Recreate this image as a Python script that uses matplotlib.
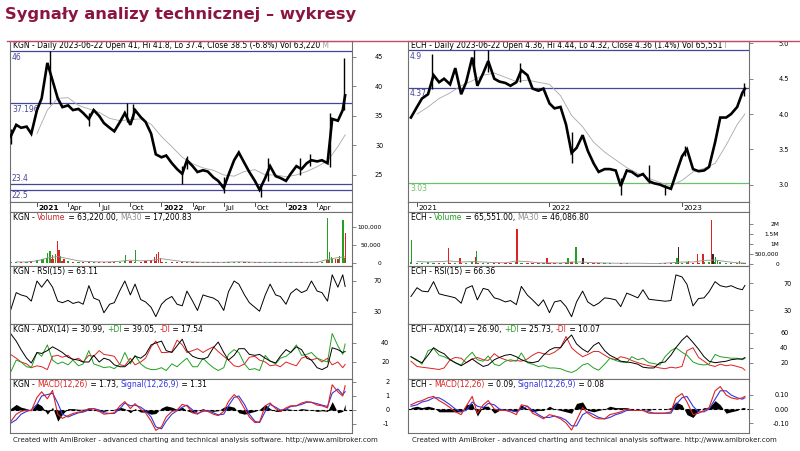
import numpy as np
import pandas as pd
import matplotlib
matplotlib.use('Agg')
import matplotlib.pyplot as plt
from matplotlib.lines import Line2D
from matplotlib.transforms import offset_copy

W, H = 800, 451

# ---------------- KGN (readings every half month, last point = 2023-06-22) ----------------
kgn_dates = pd.date_range('2020-10-15', '2023-06-15', freq='SMS').append(pd.DatetimeIndex(['2023-06-22']))
kgn_close = [31.5, 33.5, 33.0, 33.2, 32.0,
             36.0, 38.0, 44.0, 41.0, 38.0, 36.5, 36.8, 36.0, 36.2, 35.5, 34.5, 36.0,
             35.0, 33.8, 33.0, 32.4, 34.0, 35.5, 33.5, 36.0, 34.8, 34.0, 32.0, 28.5,
             28.0, 28.3, 27.0, 26.0, 25.2, 27.5, 26.5, 25.5, 25.8, 25.6, 24.6, 24.0,
             22.8, 25.0, 27.5, 28.8, 27.0, 25.5, 24.0, 22.5, 24.5, 26.5, 24.8, 24.5,
             24.0, 25.2, 26.5, 26.0, 27.0, 27.5, 27.3, 27.5, 27.0, 34.5, 34.2, 36.0, 38.5]
kgn_wick_dates = ['2020-10-15', '2021-02-08', '2021-06-01', '2021-09-20', '2021-10-08', '2022-03-01',
                  '2022-03-15', '2022-07-01', '2022-10-20', '2022-11-10', '2023-02-10', '2023-03-10',
                  '2023-05-08', '2023-06-20']
kgn_wick_hi = [32.8, 46.0, 35.5, 37.2, 37.1, 26.5, 28.3, 24.7, 23.5, 27.8, 27.8, 28.6, 35.5, 44.8]
kgn_wick_lo = [30.3, 37.0, 33.3, 34.0, 34.5, 23.4, 26.0, 22.0, 21.3, 24.0, 25.0, 26.5, 26.3, 36.0]
kgn_ma_dates = pd.date_range('2021-01-01', '2023-06-01', freq='MS').append(pd.DatetimeIndex(['2023-06-22']))
kgn_ma = [32.0, 36.0, 38.0, 38.1, 36.8, 36.2, 35.6, 34.6, 34.2, 34.4, 34.5, 33.6,
          31.5, 29.8, 28.0, 26.9, 26.2, 25.8, 25.0, 24.8, 25.6, 25.9, 25.0, 25.0,
          24.7, 25.0, 25.6, 26.4, 27.4, 29.8, 31.8]
kgn_levels = [46, 37.196, 23.4, 22.5]
kgn_level_labels = ['46', '37.196', '23.4', '22.5']
kgn_level_above = [False, False, True, False]

kgn_vol = [4, 2, 3, 2, 5,
           8, 10, 15, 12, 8, 6, 5, 4, 3, 3, 3, 4, 2, 2, 3, 2, 4, 6, 5, 4, 4, 5, 8, 6,
           4, 3, 3, 4, 3, 2, 2, 3, 2, 2, 3, 4, 3, 2, 2, 2, 3, 2, 2, 2, 2, 2, 2, 2,
           2, 3, 2, 2, 3, 2, 2, 3, 8, 12, 10, 10, 15]
kgn_spike_dates = ['2021-01-20', '2021-02-01', '2021-02-08', '2021-02-15', '2021-02-22', '2021-03-01',
                   '2021-03-05', '2021-03-10', '2021-03-20', '2021-09-18', '2021-10-17', '2021-12-12',
                   '2021-12-17', '2021-12-22', '2021-12-28', '2023-05-02', '2023-05-06', '2023-05-12',
                   '2023-05-25', '2023-06-05', '2023-06-16', '2023-06-22']
kgn_spike_vol = [12, 28, 33, 22, 25, 62, 35, 20, 10, 22, 35, 18, 25, 30, 15, 125, 30, 18, 12, 20, 120, 82]
kgn_spike_col = 'gggrgrrgrggrrrrgggrggr'
kgn_vma_dates = pd.date_range('2020-11-01', '2023-06-01', freq='MS').append(pd.DatetimeIndex(['2023-06-22']))
kgn_vma = [3, 3, 6, 14, 18, 12, 6, 4, 3, 3, 5, 8, 6, 7, 12, 8, 4, 3, 2, 2, 2, 3, 3, 2, 2, 2,
           2, 2, 2, 2, 10, 15, 17.2]

kgn_rsi = [32, 55, 52, 50, 44,
           70, 62, 72, 62, 44, 42, 45, 41, 43, 40, 64, 48, 45, 29, 40, 42, 58, 70, 52, 66, 46, 43, 36, 24,
           40, 46, 50, 40, 38, 57, 44, 32, 52, 50, 48, 44, 32, 56, 70, 66, 52, 42, 36, 31, 52, 66, 52, 50,
           40, 54, 60, 55, 58, 70, 57, 55, 44, 78, 62, 78, 63]
kgn_adx = [50, 42, 33, 24, 19,
           30, 29, 32, 36, 33, 30, 25, 23, 22, 20, 20, 27, 20, 24, 22, 17, 15, 15, 20, 26, 24, 28, 38, 40,
           42, 32, 30, 37, 44, 32, 26, 24, 23, 25, 35, 41, 30, 22, 27, 34, 34, 28, 27, 28, 24, 21, 19, 26,
           33, 30, 36, 33, 24, 22, 14, 12, 15, 35, 33, 30, 31]
kgn_pdi = [9, 22, 20, 15, 14,
           30, 26, 38, 22, 18, 20, 17, 22, 16, 18, 32, 18, 16, 14, 15, 13, 18, 30, 18, 27, 18, 14, 12, 12,
           14, 11, 18, 15, 20, 24, 15, 15, 24, 19, 14, 11, 14, 28, 33, 30, 18, 12, 13, 11, 27, 21, 18, 24,
           26, 30, 38, 27, 28, 30, 24, 22, 20, 50, 37, 28, 39]
kgn_mdi = [28, 24, 20, 18, 14,
           16, 15, 12, 26, 27, 25, 27, 22, 24, 20, 27, 26, 32, 28, 27, 26, 17, 16, 24, 17, 20, 24, 36, 42,
           30, 30, 31, 43, 38, 30, 32, 34, 30, 33, 36, 31, 26, 22, 16, 15, 18, 25, 26, 22, 20, 16, 17, 15,
           20, 18, 16, 24, 26, 22, 24, 20, 24, 17, 20, 14, 17.5]
kgn_macd = [-0.85, -0.3, -0.1, 0.0, -0.05,
            0.9, 1.3, 0.8, 1.4, -0.3, -0.6, -0.4, -0.25, -0.15, -0.1, 0.1, 0.1,
            -0.1, -0.3, -0.25, -0.2, 0.3, 0.6, 0.1, 0.45, 0.05, -0.2, -0.8, -1.45,
            -1.2, -0.5, -0.1, 0.0, 0.4, 0.3, -0.2, -0.3, 0.0, -0.1, -0.3, -0.4,
            -0.1, 0.6, 1.1, 0.8, 0.1, -0.5, -0.9, -0.85, 0.3, 0.5, 0.1, -0.1,
            0.15, 0.3, 0.3, 0.5, 0.6, 0.55, 0.35, 0.3, 0.15, 1.8, 1.3, 1.0, 1.73]
kgn_signal = [-0.95, -0.7, -0.3, -0.1, 0.0,
              0.4, 1.0, 1.1, 1.2, 0.5, -0.3, -0.5, -0.35, -0.2, -0.15, 0.0, 0.1,
              0.0, -0.2, -0.25, -0.25, 0.1, 0.5, 0.3, 0.35, 0.2, -0.05, -0.5, -1.2,
              -1.35, -0.8, -0.3, -0.05, 0.2, 0.35, 0.0, -0.25, -0.1, -0.05, -0.2, -0.35,
              -0.3, 0.3, 0.9, 1.0, 0.4, -0.3, -0.8, -0.9, -0.1, 0.4, 0.2, 0.0,
              0.05, 0.25, 0.3, 0.4, 0.55, 0.55, 0.45, 0.35, 0.25, 1.2, 1.5, 1.1, 1.31]

# ---------------- ECH ----------------
ech_dates = pd.date_range('2020-12-15', '2023-06-15', freq='SMS').append(pd.DatetimeIndex(['2023-06-22']))
ech_close = [3.95,
             4.10, 4.22, 4.28, 4.55, 4.45, 4.50, 4.42, 4.65, 4.28, 4.45, 4.80, 4.40,
             4.58, 4.75, 4.50, 4.46, 4.44, 4.40, 4.45, 4.62, 4.55, 4.36, 4.33, 4.36,
             4.15, 4.08, 4.10, 3.85, 3.45, 3.52, 3.70, 3.48, 3.30, 3.18, 3.22, 3.22,
             3.20, 2.98, 3.20, 3.18, 3.12, 3.15, 3.05, 3.02, 3.00, 2.97, 2.94, 3.15,
             3.40, 3.50, 3.22, 3.19, 3.20, 3.25, 3.60, 3.95, 3.95, 4.00, 4.10, 4.30, 4.36]
ech_wick_dates = ['2021-02-10', '2021-06-05', '2021-07-15', '2021-10-10', '2022-03-01', '2022-07-15',
                  '2022-10-01', '2022-11-15', '2023-01-10', '2023-06-20']
ech_wick_hi = [4.85, 4.90, 4.90, 4.72, 3.75, 3.10, 3.28, 3.00, 3.55, 4.44]
ech_wick_lo = [4.35, 4.60, 4.60, 4.45, 3.30, 2.85, 3.02, 2.85, 3.40, 4.25]
ech_ma_dates = pd.date_range('2021-01-01', '2023-06-01', freq='MS').append(pd.DatetimeIndex(['2023-06-22']))
ech_ma = [4.00, 4.10, 4.22, 4.30, 4.40, 4.47, 4.55, 4.58, 4.52, 4.46, 4.48, 4.45,
          4.42, 4.26, 3.98, 3.82, 3.60, 3.46, 3.35, 3.24, 3.16, 3.09, 3.03, 2.98,
          3.06, 3.18, 3.23, 3.30, 3.56, 3.85, 4.00]
ech_levels = [4.9, 4.37, 3.03]
ech_level_labels = ['4.9', '4.37', '3.03']
ech_level_above = [False, False, False]

ech_vol = [0.08,
           0.06, 0.05, 0.08, 0.07, 0.05, 0.06, 0.05, 0.07, 0.06, 0.05, 0.08, 0.06,
           0.04, 0.05, 0.04, 0.03, 0.05, 0.06, 0.08, 0.06, 0.04, 0.04, 0.05, 0.04,
           0.06, 0.05, 0.04, 0.06, 0.08, 0.06, 0.05, 0.04, 0.03, 0.03, 0.03, 0.03,
           0.02, 0.03, 0.03, 0.02, 0.02, 0.02, 0.02, 0.02, 0.03, 0.03, 0.04, 0.08,
           0.06, 0.08, 0.06, 0.07, 0.08, 0.10, 0.12, 0.08, 0.06, 0.05, 0.04, 0.04, 0.066]
ech_spike_dates = ['2020-12-17', '2021-03-28', '2021-04-28', '2021-06-11', '2021-06-13', '2021-10-03',
                   '2021-12-25', '2022-02-20', '2022-03-13', '2022-04-02', '2022-12-18', '2022-12-22',
                   '2023-01-20', '2023-02-12', '2023-02-26', '2023-03-22', '2023-03-26', '2023-04-02',
                   '2023-04-08', '2023-06-08']
ech_spike_vol = [1.2, 0.8, 0.3, 0.35, 0.65, 1.75, 0.3, 0.3, 0.85, 0.3, 0.3, 0.85, 0.15, 0.5, 0.5, 2.2,
                 0.5, 0.35, 0.2, 0.15]
ech_spike_col = 'grrrgrrggkgkrrrrkggr'
ech_vma_dates = pd.date_range('2021-01-01', '2023-06-01', freq='MS').append(pd.DatetimeIndex(['2023-06-22']))
ech_vma = [0.12, 0.10, 0.12, 0.15, 0.10, 0.12, 0.10, 0.07, 0.06, 0.15, 0.12, 0.06,
           0.06, 0.05, 0.10, 0.10, 0.06, 0.05, 0.04, 0.04, 0.04, 0.03, 0.03, 0.06,
           0.10, 0.10, 0.18, 0.20, 0.12, 0.06, 0.046]

ech_rsi = [50,
           63, 58, 57, 72, 54, 52, 50, 48, 40, 62, 66, 45, 62, 60, 48, 46, 42, 44, 38, 65, 52, 45, 36, 45,
           26, 42, 44, 35, 20, 42, 58, 42, 36, 40, 48, 47, 45, 35, 55, 52, 48, 60, 46, 45, 44, 43, 44, 82,
           79, 68, 36, 47, 48, 57, 72, 66, 64, 66, 62, 60, 66.4]
ech_adx = [28,
           23, 20, 30, 40, 35, 32, 24, 20, 16, 20, 25, 20, 15, 17, 24, 27, 30, 31, 28, 24, 21, 20, 22, 30,
           37, 40, 40, 50, 57, 45, 38, 34, 43, 47, 36, 30, 26, 22, 21, 20, 18, 14, 13, 13, 20, 21, 30, 40,
           50, 56, 47, 38, 28, 22, 20, 21, 22, 24, 25, 25, 26.9]
ech_pdi = [28,
           24, 18, 36, 39, 30, 28, 24, 20, 17, 26, 34, 24, 22, 29, 18, 16, 22, 24, 22, 33, 20, 18, 15, 16,
           13, 13, 12, 9, 7, 10, 17, 19, 13, 10, 18, 26, 23, 21, 20, 28, 24, 26, 20, 19, 17, 28, 36, 40,
           34, 30, 21, 18, 17, 18, 31, 28, 27, 26, 26, 24, 25.7]
ech_mdi = [22,
           15, 14, 13, 12, 11, 13, 24, 27, 26, 20, 25, 27, 24, 23, 32, 27, 24, 22, 23, 22, 25, 30, 34, 32,
           31, 34, 40, 55, 40, 34, 28, 31, 35, 35, 30, 26, 24, 28, 26, 23, 20, 18, 16, 15, 13, 12, 14, 13,
           15, 36, 40, 27, 22, 17, 15, 18, 16, 17, 15, 13, 10.1]
ech_macd = [0.03,
            0.05, 0.06, 0.08, 0.09, 0.06, 0.04, 0.01, -0.02, -0.04, 0.02, 0.09, -0.03,
            0.03, 0.06, 0.0, -0.01, -0.01, -0.02, -0.04, 0.03, 0.02, -0.03, -0.05, -0.07,
            -0.04, -0.05, -0.07, -0.10, -0.15, -0.08, 0.01, -0.03, -0.06, -0.07, -0.07, -0.04,
            -0.03, -0.02, 0.0, -0.01, -0.01, -0.01, -0.03, -0.03, -0.03, -0.03, -0.02, 0.08,
            0.11, 0.05, -0.04, -0.03, -0.01, 0.01, 0.13, 0.16, 0.10, 0.08, 0.07, 0.08, 0.09]
ech_signal = [0.02,
              0.03, 0.05, 0.06, 0.08, 0.08, 0.06, 0.03, 0.0, -0.02, -0.01, 0.05, 0.02,
              0.01, 0.04, 0.03, 0.0, -0.01, -0.01, -0.02, 0.0, 0.02, -0.01, -0.04, -0.06,
              -0.06, -0.05, -0.06, -0.08, -0.12, -0.12, -0.04, -0.02, -0.04, -0.06, -0.07, -0.06,
              -0.04, -0.03, -0.01, -0.01, -0.01, -0.01, -0.02, -0.03, -0.03, -0.03, -0.03, 0.03,
              0.08, 0.09, 0.02, -0.02, -0.02, 0.0, 0.07, 0.13, 0.13, 0.10, 0.08, 0.07, 0.08]

TITLE = 'Sygnały analizy technicznej – wykresy'
FOOTER = 'Created with AmiBroker - advanced charting and technical analysis software. http://www.amibroker.com'

GREEN = '#22a022'
RED = '#dd2222'
BLUE = '#3535e0'
LEVEL = '#45459a'
FRAME = '#707070'
FS = 5.5      # pane captions
TFS = 4.7     # axis numbers

ROWS = {'price': (41, 202), 'dates': (202, 212), 'vol': (212, 266),
        'rsi': (266, 324), 'adx': (324, 379), 'macd': (379, 433)}


def to_m(d):
    # months since 2021-01-01
    d = pd.DatetimeIndex(d)
    return np.asarray((d.year - 2021) * 12 + (d.month - 1) + (d.day - 1) / d.days_in_month, dtype=float)


fig = plt.figure(figsize=(8, 4.51), dpi=100)


def panel(x0, x1, key, xlim, ylim, ticks=None, labels=None, pad=28, tfs=TFS):
    y0, y1 = ROWS[key]
    ax = fig.add_axes([x0 / W, 1 - y1 / H, (x1 - x0) / W, (y1 - y0) / H])
    ax.set_xlim(*xlim)
    ax.set_ylim(*ylim)
    ax.set_xticks([])
    for s in ax.spines.values():
        s.set_color(FRAME)
        s.set_linewidth(0.8)
    ax.yaxis.tick_right()
    if ticks is None:
        ax.set_yticks([])
    else:
        ax.set_yticks(ticks)
        ax.set_yticklabels(labels, fontsize=tfs, ha='right')
    ax.tick_params(axis='y', direction='out', length=3, width=0.6, color=FRAME, pad=pad * 0.72)
    return ax


def header(ax, parts, top=0.985):
    # multi coloured caption in the upper left corner of a pane
    t = ax.text(3 / (ax.bbox.width), top, parts[0][0], color=parts[0][1], transform=ax.transAxes,
                fontsize=FS, va='top', ha='left')
    for s, c in parts[1:]:
        t = ax.annotate(s, xy=(1, 0), xycoords=t, va='bottom', ha='left', color=c, fontsize=FS)


def draw_chart(x0, x1, xlim, dates, close, wd, whi, wlo, mad, ma, levels, level_labels, level_cols, level_above,
               pylim, pticks, plabels, ppad, vol, sd, sv, sc, vmad, vma, vylim, vticks, vlabels, vpad,
               rsi, rylim, rpad, adx, pdi, mdi, aylim, aticks, apad, macd, sig, mylim, mticks, mlabels, mpad,
               date_ticks, date_labels, date_bold, texts):
    x = to_m(dates)
    # price
    ax = panel(x0, x1, 'price', xlim, pylim, pticks, plabels, ppad)
    for lv, lab, c, above in zip(levels, level_labels, level_cols, level_above):
        ax.axhline(lv, color=c, lw=0.9, zorder=1)
        tr = offset_copy(ax.get_yaxis_transform(which='grid'), fig=fig, y=1 if above else -1.5, units='dots')
        ax.text(2 / ax.bbox.width, lv, lab, color=c, fontsize=FS, va='bottom' if above else 'top',
                ha='left', transform=tr, zorder=3)
    ax.plot(to_m(mad), ma, color='#a8a8a8', lw=0.6, zorder=2)
    ax.vlines(to_m(wd), wlo, whi, color='black', lw=1.0, zorder=4)
    ax.plot(x, close, color='black', lw=1.9, zorder=4, solid_joinstyle='miter')
    header(ax, texts['price'], top=0.997)

    # dates strip
    ax = panel(x0, x1, 'dates', xlim, (0, 1))
    for t, lab, b in zip(date_ticks, date_labels, date_bold):
        ax.plot([t, t], [1, 0.62], color='#303030', lw=0.6)
        ax.annotate(lab, xy=(t, 0.42), xytext=(1.2, 0), textcoords='offset points', fontsize=5.3,
                    fontweight='bold' if b else 'normal', va='center', ha='left')

    # volume
    ax = panel(x0, x1, 'vol', xlim, vylim, vticks, vlabels, vpad, tfs=4.2)
    up = np.diff(np.r_[close[0], close]) >= 0
    ax.bar(x, vol, width=0.22, color=[GREEN if u else RED for u in up], lw=0)
    cmap = {'g': GREEN, 'r': RED, 'k': '#402020'}
    ax.bar(to_m(sd), sv, width=0.12, color=[cmap[c] for c in sc], lw=0)
    ax.plot(to_m(vmad), vma, color='#909090', lw=0.6)
    header(ax, texts['vol'])

    # RSI
    ax = panel(x0, x1, 'rsi', xlim, rylim, [30, 70], ['30', '70'], rpad)
    ax.plot(x, rsi, color='black', lw=0.7)
    header(ax, texts['rsi'])

    # ADX
    ax = panel(x0, x1, 'adx', xlim, aylim, aticks, [str(a) for a in aticks], apad)
    ax.plot(x, mdi, color=RED, lw=0.7)
    ax.plot(x, pdi, color=GREEN, lw=0.7)
    ax.plot(x, adx, color='black', lw=0.7)
    header(ax, texts['adx'])

    # MACD
    ax = panel(x0, x1, 'macd', xlim, mylim, mticks, mlabels, mpad)
    hist = np.asarray(macd) - np.asarray(sig)
    ax.axhline(0, color='black', lw=0.8, dashes=(3, 2))
    ax.fill_between(x, 0, hist, color='black', lw=0)
    ax.plot(x, sig, color=BLUE, lw=0.8)
    ax.plot(x, macd, color=RED, lw=0.8)
    header(ax, texts['macd'])


kgn_texts = {
    'price': [('KGN - Daily 2023-06-22 Open 41, Hi 41.8, Lo 37.4, Close 38.5 (-6.8%) Vol 63,220', 'black'),
              (' M', '#a0a0a0')],
    'vol': [('KGN - ', 'black'), ('Volume', '#c02828'), (' = 63,220.00, ', 'black'), ('MA30', '#909090'),
            (' = 17,200.83', 'black')],
    'rsi': [('KGN - RSI(15) = 63.11', 'black')],
    'adx': [('KGN - ADX(14) = 30.99, ', 'black'), ('+DI', GREEN), (' = 39.05, ', 'black'), ('-DI', RED),
            (' = 17.54', 'black')],
    'macd': [('KGN - ', 'black'), ('MACD(12,26)', RED), (' = 1.73, ', 'black'), ('Signal(12,26,9)', BLUE),
             (' = 1.31', 'black')],
}
ech_texts = {
    'price': [('ECH - Daily 2023-06-22 Open 4.36, Hi 4.44, Lo 4.32, Close 4.36 (1.4%) Vol 65,551', 'black'),
              (' I', '#a0a0a0')],
    'vol': [('ECH - ', 'black'), ('Volume', GREEN), (' = 65,551.00, ', 'black'), ('MA30', '#909090'),
            (' = 46,086.80', 'black')],
    'rsi': [('ECH - RSI(15) = 66.36', 'black')],
    'adx': [('ECH - ADX(14) = 26.90, ', 'black'), ('+DI', GREEN), (' = 25.73, ', 'black'), ('-DI', RED),
            (' = 10.07', 'black')],
    'macd': [('ECH - ', 'black'), ('MACD(12,26)', RED), (' = 0.09, ', 'black'), ('Signal(12,26,9)', BLUE),
             (' = 0.08', 'black')],
}

draw_chart(10, 352, (-2.60, 30.36), kgn_dates, kgn_close,
           kgn_wick_dates, kgn_wick_hi, kgn_wick_lo, kgn_ma_dates, kgn_ma,
           kgn_levels, kgn_level_labels, [LEVEL] * 4, kgn_level_above,
           (20.42, 47.71), [25, 30, 35, 40, 45], ['25', '30', '35', '40', '45'], 27,
           kgn_vol, kgn_spike_dates, kgn_spike_vol, kgn_spike_col, kgn_vma_dates, kgn_vma,
           (-8.3, 141.7), [0, 50, 100], ['0', '50,000', '100,000'], 25,
           kgn_rsi, (14.5, 89.35), 25,
           kgn_adx, kgn_pdi, kgn_mdi, (2.1, 60), [20, 40], 33,
           kgn_macd, kgn_signal, (-1.643, 2.214), [-1, 0, 1, 2], ['-1', '0', '1', '2'], 33,
           [0, 3, 6, 9, 12, 15, 18, 21, 24, 27],
           ['2021', 'Apr', 'Jul', 'Oct', '2022', 'Apr', 'Jul', 'Oct', '2023', 'Apr'],
           [True, False, False, False, True, False, False, False, True, False], kgn_texts)

draw_chart(408, 749, (-0.815, 30.07), ech_dates, ech_close,
           ech_wick_dates, ech_wick_hi, ech_wick_lo, ech_ma_dates, ech_ma,
           ech_levels, ech_level_labels, [LEVEL, LEVEL, '#6cc06c'], ech_level_above,
           (2.754, 5.034), [3.0, 3.5, 4.0, 4.5, 5.0], ['3.0', '3.5', '4.0', '4.5', '5.0'], 36,
           ech_vol, ech_spike_dates, ech_spike_vol, ech_spike_col, ech_vma_dates, ech_vma,
           (-0.1, 2.6), [0, 0.5, 1, 1.5, 2], ['0', '500,000', '1M', '1.5M', '2M'], 26,
           ech_rsi, (9.26, 95.2), 38,
           ech_adx, ech_pdi, ech_mdi, (-1.7, 71.6), [20, 40, 60], 35,
           ech_macd, ech_signal, (-0.171, 0.214), [-0.1, 0.0, 0.1], ['-0.10', '0.00', '0.10'], 36,
           [0, 12, 24], ['2021', '2022', '2023'], [False, False, False], ech_texts)

fig.text(5 / W, 1 - 19.5 / H, TITLE, fontsize=11.8, fontweight='bold', color='#8B1541', va='baseline', ha='left')
fig.add_artist(Line2D([7 / W, 1], [1 - 40.5 / H, 1 - 40.5 / H], color='#c44a6a', lw=1.0))
fig.text(13 / W, 1 - 440 / H, FOOTER, fontsize=5.0, va='center', ha='left', color='#202020')
fig.text(412 / W, 1 - 440 / H, FOOTER, fontsize=5.0, va='center', ha='left', color='#202020')

fig.savefig('out.png', dpi=100, facecolor='white')
